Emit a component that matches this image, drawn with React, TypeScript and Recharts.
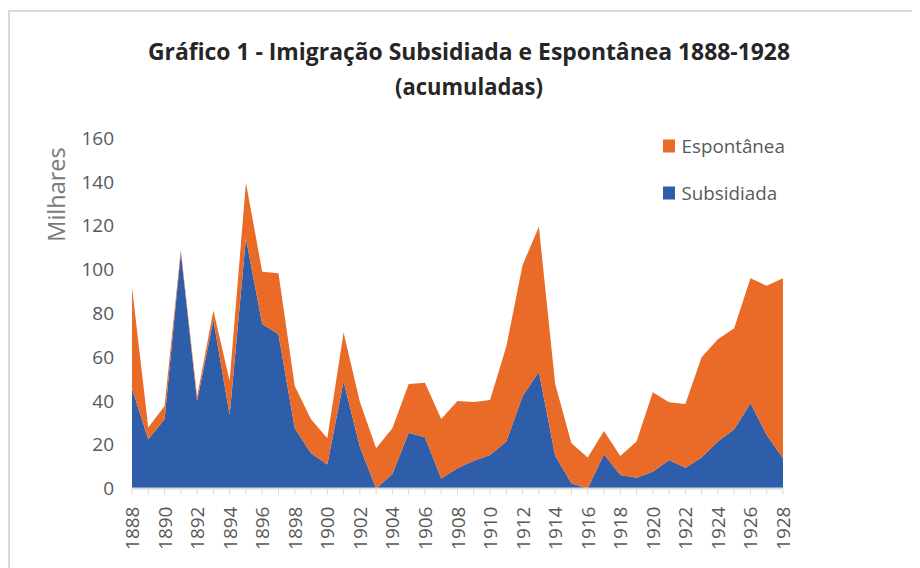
import React from 'react';
import { AreaChart, Area, XAxis, YAxis } from 'recharts';

const years = [
  1888, 1889, 1890, 1891, 1892, 1893, 1894, 1895, 1896, 1897,
  1898, 1899, 1900, 1901, 1902, 1903, 1904, 1905, 1906, 1907,
  1908, 1909, 1910, 1911, 1912, 1913, 1914, 1915, 1916, 1917,
  1918, 1919, 1920, 1921, 1922, 1923, 1924, 1925, 1926, 1927, 1928,
];

const subsidiada = [
  45.7, 22.5, 31.6, 107.7, 40.0, 76.9, 33.6, 114.2, 75.1, 70.4,
  27.5, 16.1, 11.0, 48.8, 19.1, 0.0, 6.6, 25.5, 23.4, 4.6,
  9.2, 12.7, 15.3, 21.4, 42.2, 53.3, 15.0, 2.4, 0.0, 15.6,
  6.2, 4.9, 7.7, 13.0, 9.5, 14.2, 21.4, 27.0, 38.9, 24.4, 13.8,
];

const espontanea = [
  46.2, 5.4, 6.1, 1.2, 2.0, 4.3, 15.6, 25.4, 23.9, 27.9,
  19.3, 15.5, 11.9, 22.4, 20.5, 18.4, 20.9, 22.2, 24.9, 27.1,
  30.8, 26.8, 25.1, 43.4, 59.8, 66.2, 32.8, 18.2, 14.2, 10.7,
  8.6, 16.5, 36.2, 26.4, 29.1, 45.7, 46.7, 46.1, 57.1, 68.1, 82.2,
];

const yTicks = [0, 20, 40, 60, 80, 100, 120, 140, 160];

const titleLine1 = 'Gráfico 1 - Imigração Subsidiada e Espontânea 1888-1928';
const titleLine2 = '(acumuladas)';
const yAxisTitle = 'Milhares';
const legendItems = [
  { label: 'Espontânea', key: 'espontanea' },
  { label: 'Subsidiada', key: 'subsidiada' },
];

const BLUE = '#2E5DA9';
const ORANGE = '#E96B27';
const FONT = "'Open Sans', 'Noto Sans', sans-serif";
const seriesColor: Record<string, string> = { subsidiada: BLUE, espontanea: ORANGE };

const data = years.map((year, i) => ({
  year,
  subsidiada: subsidiada[i],
  espontanea: espontanea[i],
}));

const XTick = (props: any) => {
  const { x, y, payload } = props;
  if (Number(payload.value) % 2 !== 0) return <g />;
  const ty = y + 10;
  return (
    <text
      x={x}
      y={ty}
      transform={`rotate(-90 ${x} ${ty})`}
      textAnchor="end"
      dominantBaseline="central"
      fontFamily={FONT}
      fontSize={19}
      fill="#595959"
    >
      {payload.value}
    </text>
  );
};

export default function App() {
  return (
    <div
      style={{
        position: 'relative',
        width: 912,
        height: 560,
        overflow: 'hidden',
        background: '#ffffff',
      }}
    >
      <div
        style={{
          position: 'absolute',
          left: 0,
          top: 2,
          width: 940,
          height: 600,
          borderTop: '2px solid #d9d9d9',
          borderLeft: '2px solid #d9d9d9',
          boxSizing: 'border-box',
        }}
      />
      <div style={{ position: 'absolute', left: 0, top: 0 }}>
        <AreaChart
          width={912}
          height={560}
          data={data}
          margin={{ top: 130, right: 137, bottom: 19.5, left: 64 }}
        >
          <XAxis
            dataKey="year"
            interval={0}
            height={60}
            tick={<XTick />}
            tickSize={6}
            tickMargin={2}
            axisLine={{ stroke: '#d9d9d9', strokeWidth: 2 }}
            tickLine={{ stroke: '#d9d9d9', strokeWidth: 1 }}
          />
          <YAxis
            width={60}
            domain={[0, 160]}
            ticks={yTicks}
            axisLine={false}
            tickLine={false}
            tickSize={0}
            tickMargin={18}
            tick={{ fontFamily: FONT, fontSize: 19, fill: '#595959' }}
          />
          <Area
            type="linear"
            dataKey="subsidiada"
            name="Subsidiada"
            stackId="a"
            stroke="none"
            fill={BLUE}
            fillOpacity={1}
            isAnimationActive={false}
          />
          <Area
            type="linear"
            dataKey="espontanea"
            name="Espontânea"
            stackId="a"
            stroke="none"
            fill={ORANGE}
            fillOpacity={1}
            isAnimationActive={false}
          />
        </AreaChart>
      </div>
      <svg
        width={912}
        height={560}
        style={{ position: 'absolute', left: 0, top: 0, pointerEvents: 'none' }}
      >
        <text
          x={461}
          y={51.5}
          textAnchor="middle"
          fontFamily={FONT}
          fontWeight={700}
          fontSize={23}
          fill="#262626"
          textLength={642}
          lengthAdjust="spacingAndGlyphs"
        >
          {titleLine1}
        </text>
        <text
          x={461}
          y={87}
          textAnchor="middle"
          fontFamily={FONT}
          fontWeight={700}
          fontSize={23}
          fill="#262626"
          textLength={148}
          lengthAdjust="spacingAndGlyphs"
        >
          {titleLine2}
        </text>
        <text
          x={48}
          y={186.5}
          transform="rotate(-90 48 186.5)"
          textAnchor="middle"
          dominantBaseline="central"
          fontFamily={FONT}
          fontSize={23.5}
          fill="#7a7a7a"
        >
          {yAxisTitle}
        </text>
        <g transform="translate(652 122)">
          {legendItems.map((item, i) => (
            <g key={item.key} transform={`translate(0 ${i * 47})`}>
              <rect x={3} y={9.5} width={12} height={13} fill={seriesColor[item.key]} />
              <text x={21.5} y={22.7} fontFamily={FONT} fontSize={18.8} fill="#595959">
                {item.label}
              </text>
            </g>
          ))}
        </g>
      </svg>
    </div>
  );
}
